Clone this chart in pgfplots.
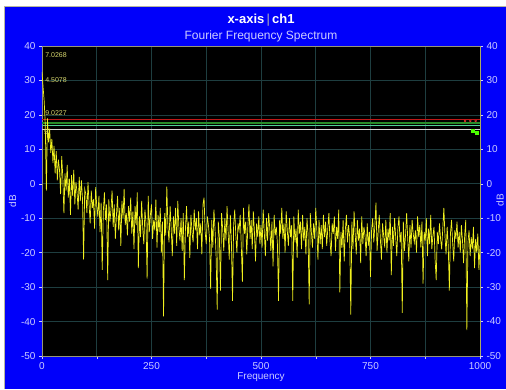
\documentclass[border=0pt]{standalone}
\usepackage{pgfplots}
\usepackage{pgfplotstable}
\pgfplotsset{compat=1.18}
\usepackage{fontspec}
\setmainfont{Liberation Sans}

\definecolor{bgblue}{RGB}{0,0,250}
\definecolor{lav}{RGB}{205,205,255}
\definecolor{gridc}{RGB}{30,62,64}
\definecolor{framec}{RGB}{150,150,120}
\definecolor{trace}{RGB}{240,240,30}
\definecolor{annot}{RGB}{215,215,110}
\definecolor{refred}{RGB}{190,25,25}
\definecolor{refgreen}{RGB}{40,140,40}
\definecolor{reflgreen}{RGB}{80,210,150}
\definecolor{refwhite}{RGB}{215,215,215}

\pgfplotstableread[row sep=\\]{
y\\
32.5\\ 28.0\\ 24.0\\ 17.0\\ -2.0\\ 19.0\\ 12.0\\ 16.0\\ 9.0\\ 13.0\\ 6.0\\ 11.0\\ 3.0\\ 9.5\\ 1.0\\ 7.0\\ 4.0\\ -3.0\\ 8.0\\ 2.0\\
-8.5\\ 3.0\\ -2.0\\ 5.5\\ -4.0\\ 1.5\\ -9.0\\ 2.5\\ -3.5\\ 4.0\\ -6.0\\ 0.5\\ -2.5\\ -7.5\\ 2.0\\ -5.0\\ 1.0\\ -4.5\\ -22.0\\ -1.5\\
-3.0\\ -8.5\\ 0.5\\ -6.0\\ -11.5\\ -2.0\\ -7.0\\ -4.5\\ -13.0\\ -1.0\\ -6.5\\ -9.5\\ -3.5\\ -14.0\\ -5.5\\ -25.0\\ -8.0\\ -2.5\\ -10.5\\ -6.0\\
-28.0\\ -4.5\\ -11.0\\ -7.5\\ -2.0\\ -12.5\\ -6.0\\ -16.0\\ -9.0\\ -3.5\\ -13.5\\ -7.0\\ -18.0\\ -5.0\\ -10.0\\ -1.5\\ -12.0\\ -8.5\\ -15.0\\ -6.5\\
-11.0\\ -4.0\\ -14.5\\ -8.0\\ -19.0\\ -6.5\\ -12.0\\ -2.5\\ -24.5\\ -9.5\\ -15.5\\ -5.0\\ -13.0\\ -17.5\\ -7.5\\ -11.5\\ -27.5\\ -3.5\\ -14.0\\ -9.0\\
-6.0\\ -16.0\\ -10.5\\ -13.5\\ -4.5\\ -18.5\\ -9.0\\ -14.0\\ -7.0\\ -20.0\\ -11.0\\ -38.5\\ -8.5\\ -15.0\\ -0.8\\ -12.5\\ -17.0\\ -6.5\\ -13.0\\ -21.0\\
-9.5\\ -14.5\\ -7.0\\ -18.0\\ -5.0\\ -12.5\\ -16.5\\ -10.0\\ -19.5\\ -8.5\\ -28.0\\ -13.0\\ -6.5\\ -15.5\\ -11.0\\ -21.5\\ -9.0\\ -14.0\\ -17.0\\ -7.5\\
-13.5\\ -10.0\\ -19.0\\ -8.0\\ -15.0\\ -11.5\\ -20.5\\ -6.0\\ -4.0\\ -14.0\\ -17.5\\ -9.5\\ -12.0\\ -16.0\\ -30.5\\ -10.5\\ -18.5\\ -7.5\\ -13.0\\ -21.0\\
-36.5\\ -11.0\\ -15.5\\ -31.0\\ -8.5\\ -13.0\\ -19.5\\ -10.0\\ -16.5\\ -6.5\\ -14.0\\ -22.0\\ -9.0\\ -17.0\\ -34.0\\ -12.0\\ -7.5\\ -15.0\\ -20.0\\ -11.5\\
-13.5\\ -9.0\\ -18.0\\ -28.5\\ -7.0\\ -14.5\\ -11.0\\ -20.5\\ -12.5\\ -6.0\\ -16.0\\ -10.5\\ -19.0\\ -8.0\\ -14.0\\ -22.5\\ -11.5\\ -15.5\\ -9.5\\ -17.5\\
-12.0\\ -18.5\\ -7.5\\ -14.0\\ -21.0\\ -10.0\\ -16.5\\ -8.5\\ -13.0\\ -19.5\\ -11.0\\ -24.0\\ -9.0\\ -15.0\\ -12.5\\ -17.5\\ -34.0\\ -10.5\\ -14.5\\ -7.0\\
-16.0\\ -11.5\\ -20.0\\ -8.0\\ -13.5\\ -18.0\\ -10.0\\ -15.5\\ -12.0\\ -34.0\\ -9.5\\ -17.0\\ -13.0\\ -21.5\\ -7.5\\ -14.5\\ -11.0\\ -19.0\\ -9.0\\ -16.5\\
-12.5\\ -20.5\\ -10.0\\ -15.0\\ -35.0\\ -8.5\\ -14.0\\ -18.5\\ -11.5\\ -16.0\\ -7.0\\ -13.5\\ -22.0\\ -10.5\\ -17.5\\ -12.0\\ -19.0\\ -9.0\\ -15.5\\ -11.0\\
-18.0\\ -13.0\\ -8.5\\ -16.5\\ -21.0\\ -11.5\\ -14.5\\ -9.5\\ -19.5\\ -12.5\\ -16.0\\ -7.5\\ -31.5\\ -14.0\\ -18.5\\ -10.5\\ -22.5\\ -13.5\\ -9.0\\ -17.0\\
-12.0\\ -15.5\\ -38.0\\ -11.0\\ -19.0\\ -8.0\\ -14.5\\ -20.5\\ -10.5\\ -16.5\\ -13.0\\ -23.0\\ -9.5\\ -17.5\\ -12.5\\ -15.0\\ -21.0\\ -11.5\\ -18.0\\ -14.0\\
-27.0\\ -13.5\\ -10.0\\ -17.0\\ -12.0\\ -5.5\\ -19.5\\ -14.0\\ -9.0\\ -16.0\\ -22.0\\ -11.5\\ -15.0\\ -18.5\\ -10.5\\ -20.0\\ -13.0\\ -16.5\\ -8.5\\ -26.5\\
-12.5\\ -18.0\\ -10.0\\ -15.5\\ -21.0\\ -13.0\\ -9.5\\ -17.0\\ -14.0\\ -37.5\\ -11.0\\ -19.5\\ -15.0\\ -8.5\\ -16.0\\ -22.5\\ -12.0\\ -18.5\\ -10.5\\ -14.5\\
-17.0\\ -13.5\\ -20.0\\ -9.5\\ -15.5\\ -12.0\\ -18.5\\ -11.0\\ -29.0\\ -14.0\\ -16.5\\ -10.0\\ -21.0\\ -13.0\\ -17.5\\ -9.0\\ -19.0\\ -15.0\\ -12.5\\ -22.0\\
-28.0\\ -14.0\\ -17.5\\ -11.5\\ -16.0\\ -19.0\\ -13.0\\ -7.0\\ -15.0\\ -20.5\\ -12.5\\ -18.0\\ -31.0\\ -14.5\\ -10.5\\ -17.0\\ -22.5\\ -13.5\\ -16.0\\ -11.0\\
-18.5\\ -14.0\\ -20.0\\ -12.0\\ -16.5\\ -23.0\\ -15.0\\ -10.5\\ -42.5\\ -17.0\\ -13.5\\ -21.0\\ -15.5\\ -19.0\\ -12.5\\ -24.5\\ -16.0\\ -20.0\\ -14.5\\ -25.0\\
-18.0\\
}\spec

\begin{document}
\begin{tikzpicture}[x=1pt,y=1pt]
\useasboundingbox (0,0) rectangle (506,389);
\fill[white] (0,0) rectangle (506,389);
\fill[bgblue] (5,0) rectangle (506,382);
\draw[framec!70!white, line width=0.8pt] (4.6,0) -- (4.6,382.4) -- (506,382.4);

\node[text=white, font=\fontsize{13}{15}\selectfont\bfseries] at (261,369) {x-axis\,\textcolor{gray!60}{\textmd{|}}\,ch1};
\node[text=lav, font=\fontsize{12}{14}\selectfont] at (261,353) {Fourier Frequency Spectrum};
\node[text=lav, font=\fontsize{10}{12}\selectfont, rotate=90, inner sep=0pt] at (500,189) {dB};

\begin{axis}[
  at={(42pt,33pt)}, anchor=south west,
  scale only axis, width=438pt, height=310pt,
  xmin=0, xmax=1000, ymin=-50, ymax=40,
  axis background/.style={fill=black},
  xtick={0,250,500,750,1000}, minor xtick={125,375,625,875},
  ytick={-50,-40,...,40},
  xtick pos=bottom, ytick pos=left,
  grid=both,
  major grid style={gridc, line width=0.6pt},
  minor grid style={gridc, line width=0.6pt},
  tick align=outside, major tick length=3pt, minor tick length=3pt,
  tick style={lav, line width=0.5pt},
  axis line style={framec, line width=0.8pt},
  ticklabel style={text=lav, font=\fontsize{10}{12}\selectfont},
  /pgf/number format/assume math mode=true,
  /pgf/number format/1000 sep={},
  xlabel={Frequency}, ylabel={dB},
  label style={text=lav, font=\fontsize{10}{12}\selectfont},
  xlabel style={yshift=4pt},
  ylabel style={yshift=-2pt},
  clip=true,
]
\addplot[refwhite, line width=0.9pt] coordinates {(0,15.9) (1000,15.9)};
\addplot[reflgreen, line width=0.8pt] coordinates {(0,17.0) (1000,17.0)};
\addplot[refgreen, line width=1.4pt] coordinates {(0,17.7) (1000,17.7)};
\addplot[refred, line width=1.6pt] coordinates {(0,18.7) (1000,18.7)};
\addplot[trace, line width=0.7pt] table[x expr=\coordindex*2.5, y=y] {\spec};
\addplot[only marks, mark=x, red!80!white, mark size=1.3pt, line width=0.6pt] coordinates {(966,18.2) (978,18.2) (990,18.2)};
\addplot[only marks, mark=square*, green!70!yellow, mark size=1.4pt] coordinates {(983,15.4) (993,14.9)};
\node[anchor=west, text=annot, font=\fontsize{7}{8}\selectfont, inner sep=0.5pt] at (axis cs:6,37.4) {7.0268};
\node[anchor=west, text=annot, font=\fontsize{7}{8}\selectfont, inner sep=0.5pt] at (axis cs:6,30.0) {4.5078};
\node[anchor=west, text=annot, font=\fontsize{7}{8}\selectfont, inner sep=0.5pt] at (axis cs:6,20.6) {9.0227};
\node[anchor=west, text=annot, font=\fontsize{7}{8}\selectfont, inner sep=0.5pt] at (axis cs:3,14.9) {5};
\end{axis}

\begin{axis}[
  at={(42pt,33pt)}, anchor=south west,
  scale only axis, width=438pt, height=310pt,
  xmin=0, xmax=1000, ymin=-50, ymax=40,
  hide x axis, axis y line*=right,
  ytick={-50,-40,...,40},
  tick align=outside, major tick length=3pt,
  tick style={lav, line width=0.5pt},
  axis line style={framec!80!yellow, line width=0.8pt},
  ticklabel style={text=lav, font=\fontsize{10}{12}\selectfont},
  /pgf/number format/assume math mode=true,
]
\addplot[draw=none] coordinates {(0,0) (1000,0)};
\end{axis}
\end{tikzpicture}
\end{document}
